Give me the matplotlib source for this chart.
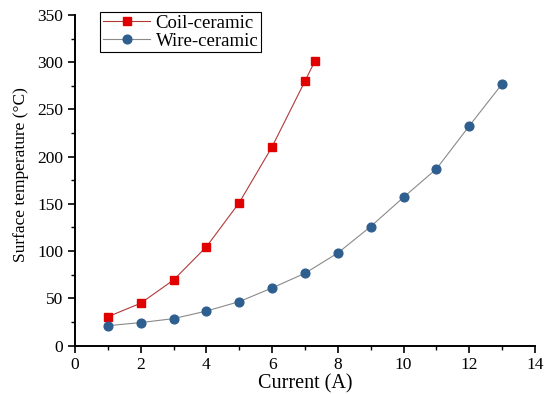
import matplotlib.pyplot as plt
from matplotlib.ticker import MultipleLocator

plt.rcParams['font.family'] = 'Liberation Serif'

coil_current = [1, 2, 3, 4, 5, 6, 7, 7.3]
coil_temp = [30.5, 44.8, 69.4, 104.6, 151.3, 210.5, 280, 301]

wire_current = [1, 2, 3, 4, 5, 6, 7, 8, 9, 10, 11, 12, 13]
wire_temp = [21, 24.3, 28.5, 36.5, 46.5, 61, 76.5, 98, 126, 157, 187, 232.5, 277]

fig = plt.figure(figsize=(5.45, 3.94), dpi=100)
ax = fig.add_axes([0.1376, 0.123, 0.844, 0.839])

ax.plot(coil_current, coil_temp, color='#b03a3a', lw=0.8, marker='s',
        ms=6, mfc='#e00000', mec='#e00000', label='Coil-ceramic')
ax.plot(wire_current, wire_temp, color='#8a8a8a', lw=0.8, marker='o',
        ms=6.3, mfc='#2f5f8f', mec='#2f5f8f', label='Wire-ceramic')

ax.set_xlim(0, 14)
ax.set_ylim(0, 350)
ax.xaxis.set_major_locator(MultipleLocator(2))
ax.xaxis.set_minor_locator(MultipleLocator(1))
ax.yaxis.set_major_locator(MultipleLocator(50))
ax.yaxis.set_minor_locator(MultipleLocator(25))
ax.tick_params(which='major', direction='out', length=5, width=1.2, labelsize=12.5)
ax.tick_params(which='minor', direction='out', length=3, width=1.0)

for side in ('top', 'right'):
    ax.spines[side].set_visible(False)
for side in ('left', 'bottom'):
    ax.spines[side].set_linewidth(1.4)

ax.set_xlabel('Current (A)', fontsize=14.5, labelpad=1)
ax.set_ylabel('Surface temperature (°C)', fontsize=12.5)
ax.yaxis.set_label_coords(-0.1, 0.516)

leg = ax.legend(loc='upper left', bbox_to_anchor=(0.055, 1.01), fontsize=13.5,
                fancybox=False, edgecolor='black', framealpha=1,
                handlelength=2.5, borderpad=0.15, labelspacing=0.05,
                handletextpad=0.3, borderaxespad=0)
leg.get_frame().set_linewidth(0.8)

fig.savefig('out.png', dpi=100)
